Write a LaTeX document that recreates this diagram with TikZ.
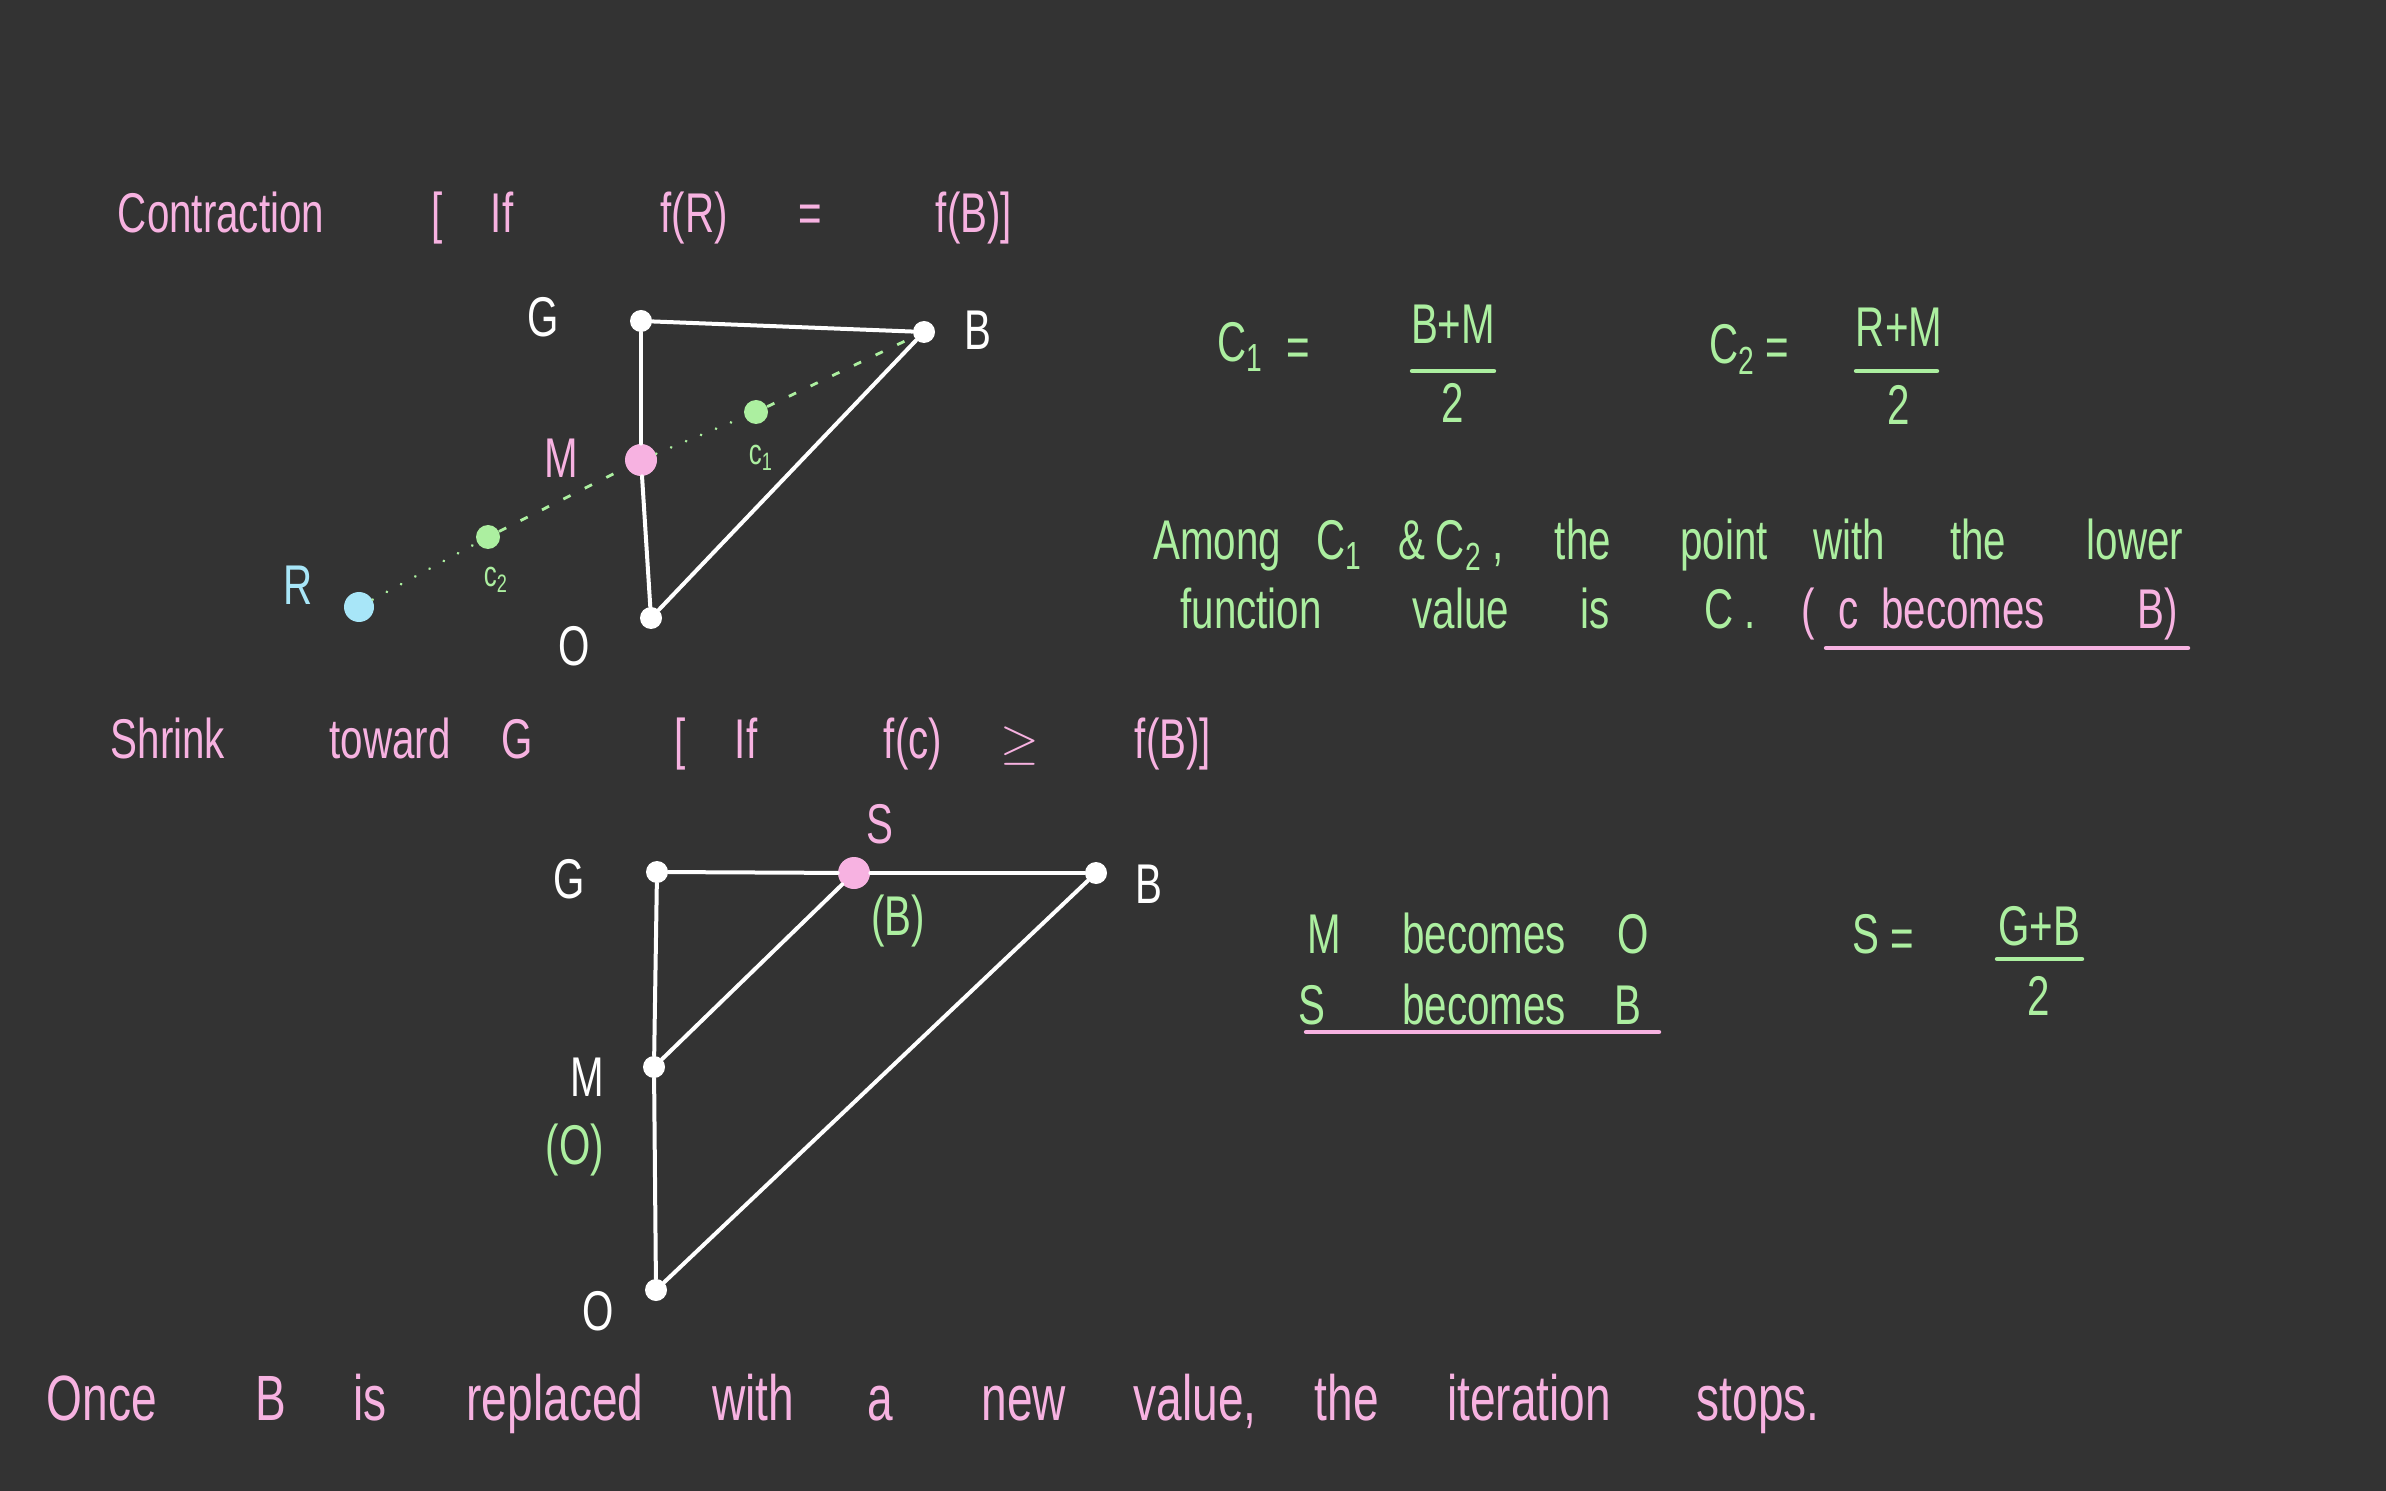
\documentclass[tikz,border=0pt]{standalone}
\usepackage{fontspec}
\setmainfont[FakeStretch=0.72]{Liberation Sans}
\definecolor{bg}{HTML}{333333}
\definecolor{pk}{HTML}{F7B2E1}
\definecolor{gr}{HTML}{ACEFA0}
\definecolor{bl}{HTML}{A8E6F8}
\tikzset{
  dot/.style={circle, fill=white, inner sep=0pt, minimum size=11pt},
  bigdot/.style={circle, inner sep=0pt, minimum size=15pt},
  wline/.style={white, line width=2pt, line cap=round},
  gdash/.style={gr, line width=1.4pt, dash pattern=on 4pt off 8pt},
  gdot/.style={gr, line width=1.4pt, line cap=round, dash pattern=on 0.1pt off 8pt},
  txt/.style={inner sep=0pt, text height=20pt, text depth=0pt, font=\fontsize{28}{30}\selectfont},
  small/.style={inner sep=0pt, text height=13pt, text depth=0pt, font=\fontsize{18}{20}\selectfont},
  ptxt/.style={txt, text=pk},
  gtxt/.style={txt, text=gr},
  wtxt/.style={txt, text=white},
  bar/.style={line width=2.2pt, line cap=round},
}
\begin{document}
\begin{tikzpicture}[x=0.5pt,y=-0.5pt]
\fill[bg] (0,0) rectangle (2386,1491);
\useasboundingbox (0,0) rectangle (2386,1491);

% ---------- Header 1 ----------
\node[ptxt] (h1a) at (221,213) {Contraction};
\node[ptxt] (h1b) at (437,213) {[};
\node[ptxt] (h1c) at (502,213) {If};
\node[ptxt] (h1d) at (694,213) {f(R)};
\node[ptxt] (h1e) at (810,213) {=};
\node[ptxt] (h1f) at (974,213) {f(B)]};

% ---------- Top triangle ----------
\node[dot] (tG) at (641,321) {};
\node[dot] (tB) at (924,332) {};
\node[dot] (tO) at (651,618) {};
\node[bigdot, fill=pk, minimum size=16pt] (tM) at (641,460) {};
\node[bigdot, fill=gr, minimum size=12pt] (tC1) at (756,412) {};
\node[bigdot, fill=gr, minimum size=12pt] (tC2) at (488,537) {};
\node[bigdot, fill=bl] (tR) at (359,607) {};

\draw[wline] (tG) -- (tB);
\draw[wline] (tG) -- (tM);
\draw[wline] (tM) -- (tO);
\draw[wline] (tO) -- (tB);
\draw[gdot] (tR) -- (tC2);
\draw[gdash] (tC2) -- (tM);
\draw[gdot] (tM) -- (tC1);
\draw[gdash] (tC1) -- (tB);

\node[wtxt] (tGl) at (543,317) {G};
\node[wtxt] (tBl) at (978,330) {B};
\node[ptxt] (tMl) at (561,458) {M};
\node[small, text=gr] (tC1l) at (761,452) {c\textsubscript{1}};
\node[small, text=gr] (tC2l) at (496,574) {c\textsubscript{2}};
\node[txt, text=bl] (tRl) at (298,584) {R};
\node[wtxt] (tOl) at (574,645) {O};

% ---------- Formulas top right ----------
\node[gtxt] (c1) at (1240,342) {C\textsubscript{1}};
\node[gtxt] (c1e) at (1298,347) {=};
\node[gtxt] (c1n) at (1453,324) {B+M};
\draw[gr, bar] (1412,371) -- (1494,371);
\node[gtxt] (c1d) at (1453,403) {2};
\node[gtxt] (c2) at (1732,344) {C\textsubscript{2}};
\node[gtxt] (c2e) at (1777,347) {=};
\node[gtxt] (c2n) at (1899,327) {R+M};
\draw[gr, bar] (1856,371) -- (1937,371);
\node[gtxt] (c2d) at (1899,405) {2};

% ---------- Among text ----------
\node[gtxt] (a1) at (1217,540) {Among};
\node[gtxt] (a2) at (1339,540) {C\textsubscript{1}};
\node[gtxt] (a3) at (1412,540) {\&};
\node[gtxt] (a4) at (1470,540) {C\textsubscript{2} ,};
\node[gtxt] (a5) at (1583,540) {the};
\node[gtxt] (a6) at (1724,540) {point};
\node[gtxt] (a7) at (1849,540) {with};
\node[gtxt] (a8) at (1978,540) {the};
\node[gtxt] (a9) at (2135,540) {lower};
\node[gtxt] (b1) at (1251,609) {function};
\node[gtxt] (b2) at (1461,609) {value};
\node[gtxt] (b3) at (1595,609) {is};
\node[gtxt] (b4) at (1730,609) {C .};
\node[ptxt] (b5) at (1808,609) {(};
\node[ptxt] (b6) at (1849,609) {c};
\node[ptxt] (b7) at (1963,609) {becomes};
\node[ptxt] (b8) at (2158,609) {B)};
\draw[pk, bar] (1826,648) -- (2188,648);

% ---------- Header 2 ----------
\node[ptxt] (h2a) at (168,738) {Shrink};
\node[ptxt] (h2b) at (390,738) {toward};
\node[ptxt] (h2c) at (517,738) {G};
\node[ptxt] (h2d) at (680,738) {[};
\node[ptxt] (h2e) at (746,738) {If};
\node[ptxt] (h2f) at (913,738) {f(c)};
\node[ptxt] (h2g) at (1020,738) {$\geq$};
\node[ptxt] (h2h) at (1173,738) {f(B)]};

% ---------- Bottom triangle ----------
\node[dot] (bG) at (657,872) {};
\node[bigdot, fill=pk, minimum size=16pt] (bS) at (854,873) {};
\node[dot] (bB) at (1096,873) {};
\node[dot] (bM) at (654,1067) {};
\node[dot] (bO) at (656,1290) {};

\draw[wline] (bG) -- (bS);
\draw[wline] (bS) -- (bB);
\draw[wline] (bG) -- (bM);
\draw[wline] (bM) -- (bO);
\draw[wline] (bM) -- (bS);
\draw[wline] (bO) -- (bB);

\node[wtxt] (bGl) at (569,878) {G};
\node[ptxt] (bSl) at (880,823) {S};
\node[gtxt] (bSv) at (898,915) {(B)};
\node[wtxt] (bBl) at (1149,883) {B};
\node[wtxt] (bMl) at (587,1076) {M};
\node[gtxt] (bMv) at (575,1144) {(O)};
\node[wtxt] (bOl) at (598,1310) {O};

% ---------- Becomes text ----------
\node[gtxt] (m1) at (1324,933) {M};
\node[gtxt] (m2) at (1484,933) {becomes};
\node[gtxt] (m3) at (1633,933) {O};
\node[gtxt] (s1) at (1312,1004) {S};
\node[gtxt] (s2) at (1484,1004) {becomes};
\node[gtxt] (s3) at (1628,1004) {B};
\draw[pk, bar] (1306,1032) -- (1659,1032);

\node[gtxt] (se1) at (1866,933) {S};
\node[gtxt] (se2) at (1902,937) {=};
\node[gtxt] (sen) at (2039,925) {G+B};
\draw[gr, bar] (1997,959) -- (2082,959);
\node[gtxt] (sed) at (2039,995) {2};

% ---------- Bottom sentence ----------
\begin{scope}[every node/.style={inner sep=0pt, text=pk, text height=23pt, text depth=0pt, font=\fontsize{32}{34}\selectfont}]
\node (w1) at (102,1397) {Once};
\node (w2) at (271,1397) {B};
\node (w3) at (370,1397) {is};
\node (w4) at (555,1397) {replaced};
\node (w5) at (753,1397) {with};
\node (w6) at (880,1397) {a};
\node (w7) at (1024,1397) {new};
\node (w8) at (1195,1397) {value,};
\node (w9) at (1347,1397) {the};
\node (w10) at (1529,1397) {iteration};
\node (w11) at (1758,1397) {stops.};
\end{scope}
\end{tikzpicture}
\end{document}
